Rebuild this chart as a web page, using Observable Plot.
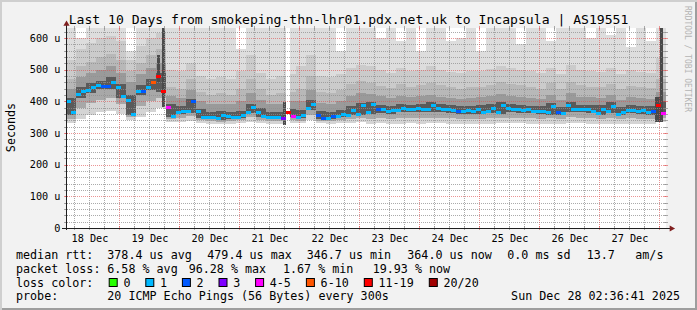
<!DOCTYPE html>
<html>
<head>
<meta charset="utf-8">
<script src="https://cdn.jsdelivr.net/npm/d3@7"></script>
<script src="https://cdn.jsdelivr.net/npm/@observablehq/plot@0.6"></script>
<style>
html,body{margin:0;padding:0;background:#f2f2f2;}
#chart{position:relative;width:697px;height:310px;background:#f2f2f2;box-shadow:inset 2px 2px 0 #cfcfcf, inset -2px -2px 0 #9e9e9e;}
#chart svg{display:block;position:absolute;left:0;top:0;}
</style>
</head>
<body>
<div id="chart"></div>
<script>
const H = 3600 * 1000;
const endTime = new Date(Date.UTC(2025, 11, 28, 2, 36, 41));
const startTime = new Date(+endTime - 240 * H);
const graphTop = 631;

// median RTT (microseconds), one value per 2 hours
const medianRtt = [
401,367,422,433,436,445,451,449,449,462,
445,416,404,361,431,433,445,462,479,431,
383,352,365,369,369,400,368,350,350,350,
347,357,354,350,350,357,367,382,367,354,
350,350,350,347,365,354,350,357,380,392,
357,348,348,353,354,361,357,372,359,388,
365,392,374,374,369,372,372,380,374,374,
380,374,374,388,378,374,374,372,370,369,
372,369,376,367,369,378,365,388,380,376,
376,372,374,369,369,369,365,386,365,363,
388,376,374,374,374,369,363,374,369,386,
361,365,372,372,369,372,365,369,388,363];

// pings lost out of 20, per 2 hours
const lossCount = [
1,1,1,1,1,1,1,2,2,1,
1,1,1,1,1,2,1,8,15,15,
5,1,1,1,1,2,1,1,1,1,
1,1,1,1,1,1,1,1,1,1,
1,1,1,3,15,5,1,1,1,1,
2,2,1,2,1,1,1,1,1,1,
1,1,2,1,1,1,1,1,1,1,
1,1,1,1,1,1,1,1,2,1,
1,1,1,1,1,1,1,1,1,1,
1,1,1,1,1,1,1,1,2,1,
1,1,1,1,1,1,1,1,1,1,
1,1,1,1,1,1,1,2,15,5];

// smoke: sorted ping ranks, one value per 4 hours (microseconds)
const smokeP1 = [330,345,355,365,370,360,340,350,365,380, 335,333,338,330,328,327,328,330,335,332, 328,328,330,330,340,330,328,330,332,335,
  328,330,328,329,330,329,331,330,329,328, 328,329,329,330,331,330,329,328,329,327, 332,330,329,328,329,327,329,328,328,333];
const smokeP4 = [345,380,395,405,410,390,350,385,400,410, 343,348,352,340,337,335,337,340,350,342, 337,337,340,338,355,338,337,340,345,347,
  345,347,345,347,347,347,348,347,346,345, 345,345,346,346,348,347,346,345,346,343, 349,347,346,344,346,343,346,345,344,347];
const smokeP8 = [358,410,425,438,440,410,358,420,435,428, 350,360,364,347,345,342,345,346,362,350, 345,344,350,346,372,345,345,350,355,356,
  360,364,360,365,365,365,366,365,363,361, 361,361,362,360,366,364,363,361,358,356, 366,365,363,358,362,355,363,361,358,358];
const smokeP12 = [410,445,458,465,475,455,420,450,470,490, 392,385,408,375,365,368,366,370,392,380, 365,366,375,372,405,368,366,372,385,395,
  398,388,386,392,388,390,396,390,387,385, 386,388,392,396,392,388,386,384,394,382, 398,389,387,388,396,382,387,386,384,402];
const smokeP15 = [440,475,490,500,510,490,460,485,505,520, 415,410,435,400,390,392,390,400,425,405, 390,392,400,400,435,395,392,400,415,425,
  422,415,410,418,412,416,420,414,410,408, 410,412,416,422,418,414,411,408,420,405, 425,414,412,410,420,405,412,410,408,430];
const smokeP17 = [470,510,525,540,550,530,495,520,545,565, 445,440,470,430,420,425,420,440,470,440, 420,425,430,440,480,430,425,435,455,465,
  458,448,442,455,446,452,458,450,444,440, 444,446,452,460,455,450,446,440,456,438, 462,450,446,444,455,438,447,444,442,470];
const smokeP19 = [530,565,585,600,605,590,530,575,600,615, 500,495,520,480,470,475,470,495,545,490, 470,480,485,510,545,480,475,485,505,515,
  510,498,490,505,495,500,510,500,492,488, 494,495,502,512,505,498,494,488,506,485, 515,500,495,492,505,486,498,493,490,535];
const smokeP20 = [631,600,631,631,631,631,560,631,631,631, 631,631,631,631,631,631,631,565,631,631, 631,631,631,631,631,631,631,560,631,631,
  631,600,631,590,631,560,631,631,590,600, 631,560,631,631,631,580,631,631,590,631, 631,631,600,631,610,631,570,631,590,631];

// heavy-loss bursts (hours from start) and a data gap
const burstStartH = [36.4, 38.4, 86.8, 235.6, 237.6];
const burstEndH   = [37.6, 39.6, 88.0, 237.6, 238.8];
const burstLo     = [460, 382, 325, 335, 335];
const burstHi     = [545, 631, 398, 413, 631];
const gapStartH = [88.0];
const gapEndH   = [89.6];

const dayLabels = ["18 Dec","19 Dec","20 Dec","21 Dec","22 Dec","23 Dec","24 Dec","25 Dec","26 Dec","27 Dec"];
const yTickValues = [0,100,200,300,400,500,600];
const yTickLabels = ["0","100 u","200 u","300 u","400 u","500 u","600 u"];
const lossBucketLabels = ["0","1","2","3","4-5","6-10","11-19","20/20"];
const lossBucketMax = [0,1,2,3,5,10,19,20];
const lossBucketColors = ["#26ff00","#00b8ff","#0059ff","#7e00ff","#ff00ff","#ff5500","#ff0000","#a10000"];

const titleText = "Last 10 Days from smokeping-thn-lhr01.pdx.net.uk to Incapsula | AS19551";
const rttStats = ["median rtt:","378.4 us avg","479.4 us max","346.7 us min","364.0 us now","0.0 ms sd","13.7","am/s"];
const lossStats = ["packet loss:","6.58 % avg","96.28 % max","1.67 % min","19.93 % now"];
const probeText = ["probe:","20 ICMP Echo Pings (56 Bytes) every 300s"];
const dateText = "Sun Dec 28 02:36:41 2025";
const unitLabel = "Seconds";
const watermark = "RRDTOOL / TOBI OETIKER";

// ---------- derived tables ----------
const tAt = h => new Date(+startTime + h * H);
const lossColor = n => lossBucketColors[lossBucketMax.findIndex(m => n <= m)];

const bandColors = ["#d4d4d4","#a8a8a8","#5a5a5a","#9a9a9a","#b8b8b8","#cbcbcb","#dddddd"];
const smokeRects = [];
smokeP1.forEach((_, j) => {
  const q = [smokeP1[j], smokeP4[j], smokeP8[j], smokeP12[j], smokeP15[j], smokeP17[j], smokeP19[j], smokeP20[j]];
  bandColors.forEach((c, k) => smokeRects.push({t0: tAt(4*j), t1: tAt(4*j+4), lo: q[k], hi: q[k+1], fill: c}));
});
const medianBins = medianRtt.map((m, i) => ({t0: tAt(2*i), t1: tAt(2*i+2), m, color: lossColor(lossCount[i])}));
const bursts = burstStartH.map((s, i) => ({t0: tAt(s), t1: tAt(burstEndH[i]), lo: burstLo[i], hi: burstHi[i]}));
const gaps = gapStartH.map((s, i) => ({t0: tAt(s), t1: tAt(gapEndH[i])}));

const day0 = Date.UTC(2025, 11, 18);
const noonTicks = dayLabels.map((_, i) => new Date(day0 + (24*i + 12) * H));
const labelByTime = new Map(noonTicks.map((d, i) => [+d, dayLabels[i]]));
const midnights = d3.range(1, 11).map(i => new Date(day0 + 24*i*H));
const minorX = d3.range(0, 40).map(i => new Date(day0 + 6*i*H)).filter(d => d > startTime && d < endTime && (+d - day0) % (24*H) !== 0);
const majorY = yTickValues.filter(v => v > 0);
const minorY = d3.range(20, graphTop, 20).filter(v => v % 100 !== 0);

const gridCol = "rgba(143,143,143,0.75)";
const mgridCol = "rgba(222,79,79,0.6)";
const tickHalfH = 0.8, tickHalfU = 6.3;
const leftT = startTime;

const plot = Plot.plot({
  width: 697, height: 310,
  marginLeft: 66, marginRight: 31, marginTop: 22, marginBottom: 82,
  style: {fontFamily: "'DejaVu Sans Mono', monospace", fontSize: "10.2px", background: "transparent", overflow: "visible", color: "#000"},
  x: {type: "utc", domain: [startTime, endTime], label: null},
  y: {domain: [0, 650], label: null},
  color: {type: "identity"},
  marks: [
    Plot.rect([0], {x1: () => startTime, x2: () => endTime, y1: () => 0, y2: () => graphTop, fill: "white"}),
    Plot.rect(smokeRects, {x1: "t0", x2: "t1", y1: "lo", y2: "hi", fill: "fill", shapeRendering: "crispEdges"}),
    Plot.rect(bursts, {x1: "t0", x2: "t1", y1: "lo", y2: "hi", fill: "#4a4a4a", shapeRendering: "crispEdges"}),
    Plot.rect(gaps, {x1: "t0", x2: "t1", y1: () => 0, y2: () => graphTop, fill: "white", shapeRendering: "crispEdges"}),
    // dotted grid
    Plot.ruleY(minorY, {x1: () => tAt(-0.4), x2: () => tAt(240.4), stroke: gridCol, strokeDasharray: "1,1", shapeRendering: "crispEdges"}),
    Plot.ruleX(minorX, {y1: () => -3, y2: () => graphTop + 3, stroke: gridCol, strokeDasharray: "1,1", shapeRendering: "crispEdges"}),
    Plot.ruleY(majorY, {x1: () => tAt(-0.4), x2: () => tAt(240.4), stroke: mgridCol, strokeDasharray: "1,1", shapeRendering: "crispEdges"}),
    Plot.ruleX(midnights, {y1: () => -3, y2: () => graphTop + 3, stroke: mgridCol, strokeDasharray: "1,1", shapeRendering: "crispEdges"}),
    // solid grid ticks at the edges
    Plot.ruleY(minorY, {x1: () => tAt(-tickHalfH), x2: () => tAt(tickHalfH), stroke: gridCol, shapeRendering: "crispEdges"}),
    Plot.ruleY(minorY, {x1: () => tAt(240 - tickHalfH), x2: () => tAt(240 + tickHalfH), stroke: gridCol, shapeRendering: "crispEdges"}),
    Plot.ruleY(majorY, {x1: () => tAt(-tickHalfH), x2: () => tAt(tickHalfH), stroke: mgridCol, shapeRendering: "crispEdges"}),
    Plot.ruleY(majorY, {x1: () => tAt(240 - tickHalfH), x2: () => tAt(240 + tickHalfH), stroke: mgridCol, shapeRendering: "crispEdges"}),
    Plot.ruleX(minorX, {y1: () => -tickHalfU, y2: () => tickHalfU, stroke: gridCol, shapeRendering: "crispEdges"}),
    Plot.ruleX(midnights, {y1: () => -tickHalfU, y2: () => tickHalfU, stroke: mgridCol, shapeRendering: "crispEdges"}),
    Plot.ruleX(minorX, {y1: () => graphTop - tickHalfU, y2: () => graphTop + tickHalfU, stroke: gridCol, shapeRendering: "crispEdges"}),
    Plot.ruleX(midnights, {y1: () => graphTop - tickHalfU, y2: () => graphTop + tickHalfU, stroke: mgridCol, shapeRendering: "crispEdges"}),
    // median, coloured by loss
    Plot.ruleY(medianBins, {x1: "t0", x2: "t1", y: "m", stroke: "color", strokeWidth: 3, shapeRendering: "crispEdges"}),
    // axes lines + arrows
    Plot.ruleX([leftT], {y1: () => -tickHalfU, y2: () => 645, stroke: "#1f1f1f", shapeRendering: "crispEdges"}),
    Plot.ruleY([0], {x1: () => tAt(-1.6), x2: () => tAt(242), stroke: "#1f1f1f", shapeRendering: "crispEdges"}),
    Plot.dot([0], {x: () => leftT, y: () => 645, symbol: "triangle", r: 2.3, fill: "#801f1f", stroke: "none"}),
    Plot.dot([0], {x: () => tAt(242), y: () => 0, symbol: "triangle", rotate: 90, r: 2.3, fill: "#801f1f", stroke: "none"}),
    Plot.axisX(noonTicks, {tickSize: 0, tickPadding: 6, tickFormat: d => labelByTime.get(+d), label: null}),
    Plot.axisY(yTickValues, {tickSize: 0, tickPadding: 6, tickFormat: d => yTickLabels[yTickValues.indexOf(d)], label: null})
  ]
});
document.getElementById("chart").appendChild(plot);

// ---------- text outside the graph area ----------
const svg = d3.select(plot);
const mono = "'DejaVu Sans Mono', monospace";
svg.append("text").attr("x", 348.5).attr("y", 23.5).attr("text-anchor", "middle")
  .attr("font-family", mono).attr("font-size", 13.1).attr("fill", "#000").text(titleText);
svg.append("text").attr("transform", "translate(15,127.5) rotate(-90)").attr("text-anchor", "middle")
  .attr("font-family", mono).attr("font-size", 11.7).attr("fill", "#000").text(unitLabel);
svg.append("text").attr("transform", "translate(684.5,59) rotate(90)").attr("text-anchor", "middle")
  .attr("font-family", mono).attr("font-size", 8).attr("fill", "#b4b4b4").text(watermark);

const legendFont = 11.7;
const addText = (x, y, s, anchor) => svg.append("text").attr("x", x).attr("y", y)
  .attr("text-anchor", anchor || "start").attr("font-family", mono).attr("font-size", legendFont)
  .attr("fill", "#000").attr("xml:space", "preserve").text(s);
const row1X = [16, 107.3, 207.3, 306.7, 407.3, 507.3, 586.7, 635.3];
rttStats.forEach((s, i) => addText(row1X[i], 259, s));
const row2X = [16, 107.3, 188.7, 283, 372.7];
lossStats.forEach((s, i) => addText(row2X[i], 272.8, s));
addText(16, 286.6, "loss color:");
let sx = 108.7;
lossBucketLabels.forEach((lab, i) => {
  svg.append("rect").attr("x", sx + 0.5).attr("y", 278.5).attr("width", 8).attr("height", 8)
    .attr("fill", lossBucketColors[i]).attr("stroke", "#000").attr("stroke-width", 1);
  addText(sx + 14.7, 286.6, lab);
  sx += 14.7 + lab.length * 7.1 + 14.8;
});
addText(16, 300.4, probeText[0]);
addText(107.3, 300.4, probeText[1]);
addText(680, 300.4, dateText, "end");
</script>
</body>
</html>
